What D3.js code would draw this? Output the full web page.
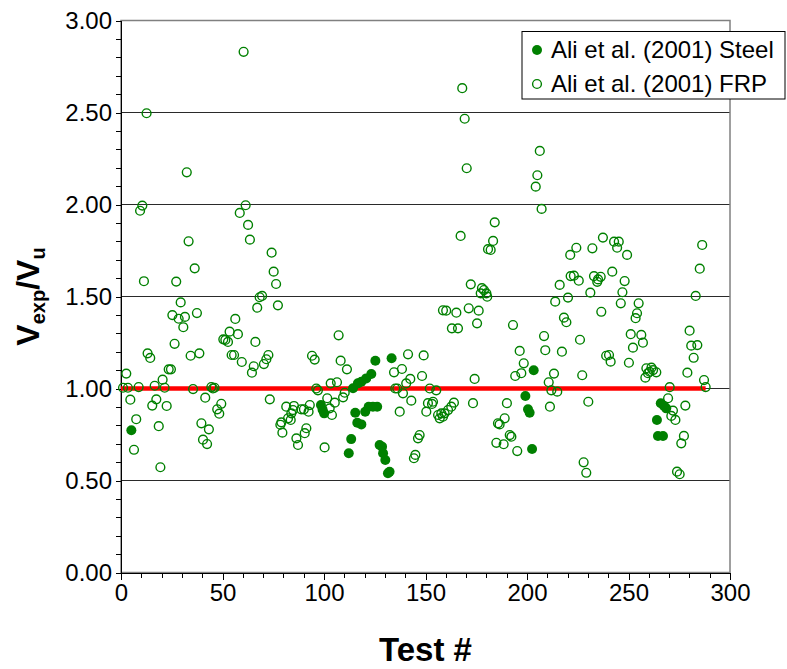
<!DOCTYPE html>
<html>
<head>
<script src="https://d3js.org/d3.v7.min.js"></script>
<style>
  body { margin: 0; background: #fff; }
  svg { font-family: "Liberation Sans", Arial, sans-serif; }
  .axis text { font-size: 24px; fill: #000; }
  .axis line, .axis path { stroke: #000; shape-rendering: crispEdges; }
</style>
</head>
<body>
<script>
// Ali et al. (2001) - steel stirrups
var steelX = [5.1, 98.5, 99.3, 100.1, 112.2, 113.4, 114.3, 115.4, 116.4, 116.7, 118.4, 118.4, 120.3, 120.8, 122, 123.3, 124.1, 125.3, 126.2, 127.4, 128.6, 129.1, 130.2, 131.5, 132.3, 133.3, 199.2, 200.5, 201.3, 202.5, 203.3, 264, 264.5, 265.9, 267, 267.5, 268.6];
var steelY = [0.773, 0.91, 0.885, 0.865, 0.648, 0.725, 1.001, 0.868, 0.814, 1.028, 0.805, 1.037, 0.874, 1.055, 0.901, 1.079, 0.901, 1.151, 0.901, 0.693, 0.684, 0.648, 0.611, 0.539, 0.548, 1.164, 0.959, 0.887, 0.868, 0.671, 1.099, 0.829, 0.742, 0.920, 0.742, 0.905, 0.892];

// Ali et al. (2001) - FRP
var frpX = [1, 2.6, 3.4, 4.6, 6.4, 7.5, 8.7, 9.4, 10.5, 11.3, 12.6, 13.1, 14.4, 15.4, 16.6, 17.4, 18.6, 19.4, 20.5, 21.5,
  22.5, 23.5, 24.6, 25.3, 26.4, 27.2, 28.4, 29.4, 30.7, 31.5, 32.4, 33.3, 34.3, 35.5, 36.3, 37.4, 38.6, 39.6, 40.4, 41.5,
  42.4, 43.3, 44.5, 45.3, 46.1, 47.4, 48.4, 49.4, 50.4, 51.4, 52.7, 53.5, 54.5, 55.7, 56.3, 57.6, 58.5, 59.5, 60.4, 61.4,
  62.6, 63.5, 64.5, 65.4, 66.2, 67.1, 68.3, 69.5, 70.4, 71.6, 72.6, 73.3, 74.2, 75.2, 76.4, 77.3, 78.5, 79, 79.5,
  81.4, 82.3, 83.6, 83.9, 84.7, 85.2, 86.4, 87.2, 88.8, 90.1, 90.5, 91.3, 92.4, 93, 94.1, 95.4, 96.2, 97, 100.3, 101.6,
  102.8, 103.3, 103.9, 105.3, 106.4, 107.2, 108.2, 109.4, 110.2, 111.3,
  134.5, 135.1, 136.1, 137.3, 138.4, 138.9, 140.5, 141.4, 142.5, 143, 144.3, 145, 146.3, 147.1, 148.3, 149.1, 150.4, 151.2, 152.1, 153.2,
  153.7, 155.3, 156.2, 157, 157.8, 158.6, 158.6, 159.4, 161.1, 162.7, 164,
  160.2, 163, 165.2, 166, 167.3, 168.1, 169.3, 170.3, 171.3, 172.3, 173.4, 174.2, 175.4, 176.2, 177.2, 177.8, 178.8, 180, 180.4, 180.8,
  182.1, 183.3, 184.1, 184.9, 185.7, 186.5, 188.5, 189, 190.1, 191.5, 192.3, 193.1, 194.2, 195.2, 196.4, 197.2, 198.4,
  204.3, 205.1, 206.3, 207.2, 208.4, 209, 210.7, 211.3, 212, 213.3, 213.9, 214.9, 216.1, 217.2, 218.2, 219.4, 220.2, 221.3, 221.5, 223.1,
  224.3, 225.5, 226.1, 227.2, 227.9, 229.2, 230.2, 231.2, 232.2, 233, 234.6, 235, 236.3, 236.6, 237.4, 239, 240.4, 241.2,
  242, 242.9, 244.4, 245.2, 246.2, 247, 248.1, 249.3, 250.2, 251.1, 252.2, 253.5, 254.2, 255, 256.3, 257.1, 258.3, 258.8, 259.6, 260.4,
  261.3, 262.1, 263.7,
  269.5, 270.3, 271.1, 271.9, 273.1, 273.9, 275.2, 276, 277.3, 278, 279, 280.1, 280.9, 282.1, 283.1, 283.9, 285.1, 286.3, 287.2, 288];
var frpY = [1.004, 1.081, 1.004, 0.939, 0.667, 0.833, 1.008, 1.966, 1.994, 1.583, 2.496, 1.191, 1.166, 0.907, 1.015, 0.941, 0.795, 0.572, 1.048, 1.004,
  0.905, 1.104, 1.104, 1.399, 1.243, 1.581, 1.379, 1.468, 1.333, 1.389, 2.175, 1.80, 1.178, 0.997, 1.653, 1.410, 1.191, 0.811, 0.722, 0.950,
  0.698, 0.778, 1.008, 1.000, 1.004, 0.887, 0.863, 0.917, 1.267, 1.264, 1.253, 1.309, 1.182, 1.182, 1.378, 1.295, 1.954, 1.144, 2.83, 1.996,
  1.889, 1.809, 1.086, 1.121, 1.253, 1.439, 1.496, 1.503, 1.133, 1.159, 1.182, 0.941, 1.738, 1.635, 1.568, 1.452, 0.803, 0.816, 0.76,
  0.901, 0.838, 0.829, 0.865, 0.883, 0.905, 0.729, 0.693, 0.887, 0.887, 0.757, 0.784, 0.874, 0.910, 1.178, 1.157, 1.0, 0.99, 0.680, 0.947,
  0.892, 1.028, 0.856, 0.923, 1.034, 1.289, 1.151, 0.952, 0.977, 1.104,
  1.088, 1.0, 1.0, 0.874, 1.106, 0.974, 1.028, 1.186, 1.052, 0.934, 0.621, 0.639, 0.729, 0.747, 1.068, 1.180, 0.874, 0.920, 1.0, 0.916,
  0.928, 0.99, 0.856, 0.838, 0.865, 0.847, 1.425, 0.865, 0.883, 0.901, 0.923,
  1.423, 1.327, 1.412, 1.327, 1.829, 2.632, 2.466, 2.197, 1.436, 1.566, 0.920, 1.052, 1.354, 1.423, 1.517, 1.545, 1.535, 1.517, 1.499, 1.757,
  1.753, 1.802, 1.903, 0.705, 0.811, 0.805, 0.697, 0.838, 0.920, 0.747, 0.738, 1.345, 1.068, 0.660, 1.204, 1.083, 1.137,
  2.097, 2.159, 2.291, 1.976, 1.285, 1.208, 1.034, 0.901, 0.99, 1.081, 1.472, 0.983, 1.563, 1.200, 1.385, 1.360, 1.494, 1.726, 1.611, 1.613,
  1.765, 1.586, 1.265, 1.072, 0.599, 0.542, 0.928, 1.521, 1.762, 1.611, 1.580, 1.593, 1.607, 1.417, 1.82, 1.178, 1.182, 1.146,
  1.635, 1.798, 1.765, 1.798, 1.463, 1.523, 1.584, 1.726, 1.140, 1.295, 1.222, 1.382, 1.409, 1.463, 1.291, 1.249, 1.059, 1.110, 1.083, 1.091,
  1.113, 1.100, 1.088,
  0.947, 1.007, 0.851, 0.880, 0.829, 0.548, 0.534, 0.702, 0.742, 0.907, 1.086, 1.314, 1.233, 1.167, 1.503, 1.236, 1.651, 1.780, 1.046, 1.008];

// reference line Vexp/Vu = 1
var refX = [0, 288];
var refY = [1, 1];

var xTicks = [0, 50, 100, 150, 200, 250, 300];
var yTicks = [0, 0.5, 1, 1.5, 2, 2.5, 3];
var seriesNames = ["Ali et al. (2001) Steel", "Ali et al. (2001) FRP"];

var width = 787, height = 669;
var margin = { left: 121, right: 57, top: 20.5, bottom: 96.5 };

var svg = d3.select("body").append("svg")
  .attr("width", width)
  .attr("height", height);

var x = d3.scaleLinear().domain([0, 300]).range([margin.left, width - margin.right]);
var y = d3.scaleLinear().domain([0, 3]).range([height - margin.bottom, margin.top]);

// gridlines
svg.append("g")
  .selectAll("line")
  .data(yTicks.slice(1, -1))
  .enter().append("line")
  .attr("x1", x(0)).attr("x2", x(300))
  .attr("y1", function(d) { return y(d); })
  .attr("y2", function(d) { return y(d); })
  .attr("stroke", "#2a2a2a")
  .attr("stroke-width", 1.2);

// plot frame (top / right in grey)
svg.append("rect")
  .attr("x", x(0)).attr("y", y(3))
  .attr("width", x(300) - x(0))
  .attr("height", y(0) - y(3))
  .attr("fill", "none")
  .attr("stroke", "#808080")
  .attr("stroke-width", 1.5);

// minor ticks
svg.append("g")
  .attr("class", "axis")
  .attr("transform", "translate(" + x(0) + ",0)")
  .call(d3.axisLeft(y).tickValues(d3.range(0, 31).map(function(i) { return i / 10; }))
    .tickSize(5).tickSizeOuter(0).tickFormat(""));
svg.append("g")
  .attr("class", "axis")
  .attr("transform", "translate(0," + y(0) + ")")
  .call(d3.axisBottom(x).tickValues(d3.range(0, 31).map(function(i) { return i * 10; }))
    .tickSize(5).tickSizeOuter(0).tickFormat(""));

// major ticks + labels
svg.append("g")
  .attr("class", "axis")
  .attr("transform", "translate(" + x(0) + ",0)")
  .call(d3.axisLeft(y).tickValues(yTicks).tickSize(5).tickSizeOuter(0)
    .tickPadding(4).tickFormat(d3.format(".2f")));
svg.append("g")
  .attr("class", "axis")
  .attr("transform", "translate(0," + y(0) + ")")
  .call(d3.axisBottom(x).tickValues(xTicks).tickSize(7).tickSizeOuter(0)
    .tickPadding(4).tickFormat(d3.format("d")));

// red reference line
svg.append("path")
  .datum(d3.range(refX.length))
  .attr("fill", "none")
  .attr("stroke", "#ff0000")
  .attr("stroke-width", 4.5)
  .attr("d", d3.line()
    .x(function(i) { return x(refX[i]); })
    .y(function(i) { return y(refY[i]); }));

// FRP (open circles)
svg.append("g")
  .selectAll("circle")
  .data(d3.range(frpX.length))
  .enter().append("circle")
  .attr("cx", function(i) { return x(frpX[i]); })
  .attr("cy", function(i) { return y(frpY[i]); })
  .attr("r", 4.4)
  .attr("fill", "none")
  .attr("stroke", "#008000")
  .attr("stroke-width", 1.4);

// Steel (filled circles)
svg.append("g")
  .selectAll("circle")
  .data(d3.range(steelX.length))
  .enter().append("circle")
  .attr("cx", function(i) { return x(steelX[i]); })
  .attr("cy", function(i) { return y(steelY[i]); })
  .attr("r", 5)
  .attr("fill", "#008000");

// axis titles
svg.append("text")
  .attr("x", (x(0) + x(300)) / 2)
  .attr("y", 661)
  .attr("text-anchor", "middle")
  .style("font-weight", "bold")
  .style("font-size", "33px")
  .text("Test #");

var yt = svg.append("text")
  .attr("transform", "translate(39," + (y(1.5)) + ") rotate(-90)")
  .attr("text-anchor", "middle")
  .style("font-weight", "bold")
  .style("font-size", "32px");
yt.append("tspan").text("V");
yt.append("tspan").attr("dy", 6).style("font-size", "20px").text("exp");
yt.append("tspan").attr("dy", -6).text("/V");
yt.append("tspan").attr("dy", 6).style("font-size", "20px").text("u");

// legend
var legend = svg.append("g").attr("transform", "translate(522,31.5)");
legend.append("rect")
  .attr("width", 263).attr("height", 67.5)
  .attr("fill", "#fff").attr("stroke", "#000").attr("stroke-width", 1);
legend.append("circle").attr("cx", 15).attr("cy", 18.5).attr("r", 5).attr("fill", "#008000");
legend.append("circle").attr("cx", 15).attr("cy", 52.5).attr("r", 4.4)
  .attr("fill", "none").attr("stroke", "#008000").attr("stroke-width", 1.4);
legend.selectAll("text.lab")
  .data(seriesNames)
  .enter().append("text")
  .attr("class", "lab")
  .attr("x", 29)
  .attr("y", function(d, i) { return 26 + i * 34; })
  .style("font-size", "24px")
  .text(function(d) { return d; });
</script>
</body>
</html>
